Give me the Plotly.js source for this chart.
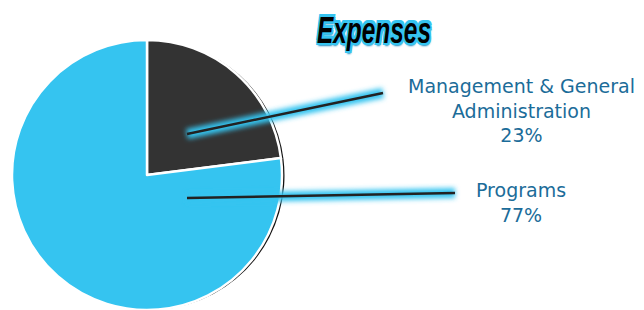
<!DOCTYPE html>
<html><head><meta charset="utf-8">
<script src="https://cdn.plot.ly/plotly-3.0.1.min.js"></script>
<style>html,body{margin:0;padding:0;background:#fff}</style>
</head><body>
<div id="chart" style="width:644px;height:310px"></div>
<script>
const categories = ["Management & General Administration", "Programs"];
const labelLines = [["Management & General", "Administration"], ["Programs"]];
const values = [23, 77];
const colors = ["#333333", "#35c4f0"];
const titleText = "Expenses";

const W = 644, H = 310;
const px = x => x / W, py = y => 1 - y / H;

const shadow = {
  type: "pie", labels: categories, values: values, sort: false,
  direction: "clockwise", rotation: 0,
  marker: {colors: categories.map(() => "#111111"), line: {width: 0}},
  textinfo: "none", hoverinfo: "skip", showlegend: false,
  domain: {x: [px(13), px(287)], y: [py(315), py(41)]}
};
const pie = {
  type: "pie", labels: categories, values: values, sort: false,
  direction: "clockwise", rotation: 0,
  marker: {colors: colors, line: {color: "#ffffff", width: 2.5}},
  textinfo: "none", showlegend: false,
  domain: {x: [px(12), px(282)], y: [py(310), py(40)]}
};

const leaders = [
  [[187, 134], [383, 93]],
  [[187, 198], [455, 193]]
];
const shapes = [];
leaders.forEach(l => {
  shapes.push({type: "line", xref: "paper", yref: "paper", layer: "above",
    x0: px(l[0][0]), y0: py(l[0][1]), x1: px(l[1][0]), y1: py(l[1][1]),
    line: {color: "#35c4f0", width: 10}});
});
leaders.forEach(l => {
  shapes.push({type: "line", xref: "paper", yref: "paper", layer: "above",
    x0: px(l[0][0]), y0: py(l[0][1]), x1: px(l[1][0]), y1: py(l[1][1]),
    line: {color: "#222222", width: 2.5}});
});

const labelX = 521;
const labelCenterY = [110, 202];
const annotations = categories.map((c, i) => ({
  xref: "paper", yref: "paper", x: px(labelX), y: py(labelCenterY[i]),
  xanchor: "center", yanchor: "middle", showarrow: false, align: "center",
  text: labelLines[i].concat([values[i] + "%"]).join("<br>"),
  font: {family: "DejaVu Sans, sans-serif", size: 19, color: "#1b6c99"}
}));

const layout = {
  width: W, height: H, margin: {l: 0, r: 0, t: 0, b: 0},
  paper_bgcolor: "#ffffff", plot_bgcolor: "#ffffff",
  title: {text: "<b><i>" + titleText + "</i></b>", x: px(374), y: py(30),
    xanchor: "center", yanchor: "middle", xref: "paper", yref: "paper",
    font: {family: "Liberation Sans, Arial, sans-serif", size: 36, color: "#000000",
      shadow: "2px 0 0 #35c4f0, -2px 0 0 #35c4f0, 0 2px 0 #35c4f0, 0 -2px 0 #35c4f0, 2px 2px 0 #35c4f0, -2px -2px 0 #35c4f0, 2px -2px 0 #35c4f0, -2px 2px 0 #35c4f0, 1px 3px 2px #1b8cc0"}},
  shapes: shapes, annotations: annotations
};
Plotly.newPlot("chart", [shadow, pie], layout, {displayModeBar: false, staticPlot: true}).then(gd => {
  // squeeze the title horizontally (condensed display face)
  const t = gd.querySelector(".gtitle");
  if (t) {
    const bb = t.getBBox();
    const cx = bb.x + bb.width / 2;
    const s = 114 / bb.width;
    t.setAttribute("transform", `translate(${cx},0) scale(${s},1) translate(${-cx},0)`);
  }
  // soft glow on leader-line halos
  const ns = "http://www.w3.org/2000/svg";
  gd.querySelectorAll(".shapelayer path").forEach(p => {
    const st = p.getAttribute("style") || "";
    if (st.indexOf("53, 196, 240") >= 0 || st.indexOf("#35c4f0") >= 0) {
      const svg = p.ownerSVGElement;
      if (!svg.querySelector("#glowblur")) {
        const defs = document.createElementNS(ns, "defs");
        const f = document.createElementNS(ns, "filter");
        f.setAttribute("id", "glowblur");
        f.setAttribute("x", "-20%"); f.setAttribute("y", "-200%");
        f.setAttribute("width", "140%"); f.setAttribute("height", "500%");
        const b = document.createElementNS(ns, "feGaussianBlur");
        b.setAttribute("stdDeviation", "2.5");
        f.appendChild(b); defs.appendChild(f); svg.insertBefore(defs, svg.firstChild);
      }
      p.setAttribute("filter", "url(#glowblur)");
    }
  });
});
</script>
</body></html>
